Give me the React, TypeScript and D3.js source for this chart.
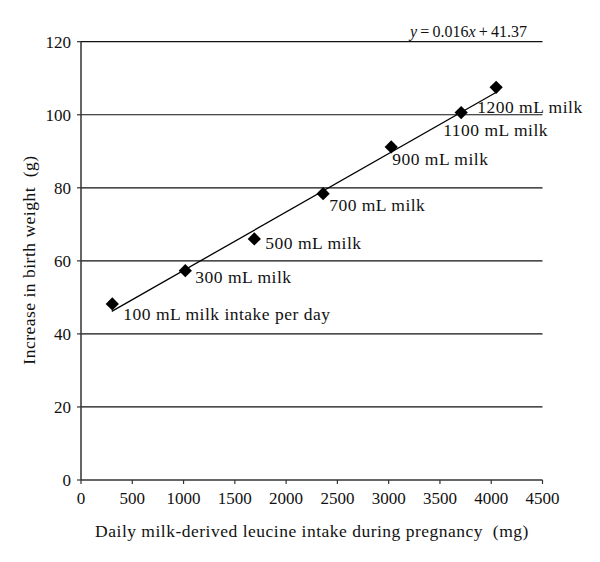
import React from "react";
import * as d3 from "d3";

const leucine = [305, 1017, 1690, 2361, 3025, 3707, 4048];
const weightGain = [48.2, 57.3, 66.0, 78.4, 91.2, 100.6, 107.5];
const pointLabels = [
  "100 mL milk intake per day",
  "300 mL milk",
  "500 mL milk",
  "700 mL milk",
  "900 mL milk",
  "1100 mL milk",
  "1200 mL milk",
];
const xTicks = [0, 500, 1000, 1500, 2000, 2500, 3000, 3500, 4000, 4500];
const yTicks = [0, 20, 40, 60, 80, 100, 120];
const slope = 0.016;
const intercept = 41.37;
const trendRange = [300, 4050];

// label placement offsets (px) relative to each point
const labelDx = [11, 10, 11, 6, 1, -18, -19];
const labelDy = [16, 12, 10, 17, 18, 23, 26];

const FONT = "'Liberation Serif', 'Times New Roman', serif";
const TS = 17.5;
const LS = 0.5;

export default function App() {
  const x = d3.scaleLinear().domain([0, 4500]).range([81, 542.5]);
  const y = d3.scaleLinear().domain([0, 120]).range([480, 41.7]);
  const diamond = d3.symbol().type(d3.symbolSquare).size(88)();
  const line = d3
    .line<number>()
    .x((d) => x(d))
    .y((d) => y(slope * d + intercept));

  return (
    <svg
      width={600}
      height={562}
      style={{ position: "absolute", left: 0, top: 0, background: "#fff" }}
      fontFamily={FONT}
    >
      {yTicks.map((t) =>
        t === 0 ? null : (
          <line key={"g" + t} x1={x(0)} x2={x(4500)} y1={y(t)} y2={y(t)} stroke="#111" strokeWidth={1.2} />
        )
      )}
      {/* axes */}
      <line x1={x(0)} x2={x(0)} y1={y(0)} y2={y(120)} stroke="#333" strokeWidth={1.5} />
      <line x1={x(0)} x2={x(4500)} y1={y(0)} y2={y(0)} stroke="#333" strokeWidth={1.5} />
      {yTicks.map((t) => (
        <g key={"yt" + t}>
          <line x1={x(0) - 4} x2={x(0)} y1={y(t)} y2={y(t)} stroke="#333" strokeWidth={1.2} />
          <text x={x(0) - 10} y={y(t)} dy="0.35em" textAnchor="end" fontSize={17} fill="#111">
            {t}
          </text>
        </g>
      ))}
      {xTicks.map((t) => (
        <g key={"xt" + t}>
          <line x1={x(t)} x2={x(t)} y1={y(0)} y2={y(0) + 4} stroke="#333" strokeWidth={1.2} />
          <text x={x(t)} y={y(0) + 24} textAnchor="middle" fontSize={17} fill="#111">
            {t}
          </text>
        </g>
      ))}
      {/* trend line */}
      <path d={line(trendRange) || ""} fill="none" stroke="#000" strokeWidth={1.3} />
      {/* points */}
      {leucine.map((v, i) => (
        <path
          key={"p" + i}
          d={diamond || ""}
          transform={`translate(${x(v)},${y(weightGain[i])}) rotate(45)`}
          fill="#000"
        />
      ))}
      {leucine.map((v, i) => (
        <text
          key={"l" + i}
          x={x(v) + labelDx[i]}
          y={y(weightGain[i]) + labelDy[i]}
          fontSize={TS}
          letterSpacing={LS}
          fill="#111"
        >
          {pointLabels[i]}
        </text>
      ))}
      {/* equation */}
      <text x={527} y={37} fontSize={16} textAnchor="end" fill="#111">
        <tspan fontStyle="italic">y</tspan>
        <tspan>{"\u2009=\u20090.016"}</tspan>
        <tspan fontStyle="italic">x</tspan>
        <tspan>{"\u2009+\u200941.37"}</tspan>
      </text>
      {/* axis titles */}
      <text
        x={312}
        y={537}
        textAnchor="middle"
        fontSize={TS}
        letterSpacing={LS}
        fill="#111"
        style={{ whiteSpace: "pre" }}
      >
        {"Daily milk-derived leucine intake during pregnancy  (mg)"}
      </text>
      <text
        transform="translate(35,260) rotate(-90)"
        textAnchor="middle"
        fontSize={TS}
        letterSpacing={LS}
        fill="#111"
        style={{ whiteSpace: "pre" }}
      >
        {"Increase in birth weight  (g)"}
      </text>
    </svg>
  );
}
